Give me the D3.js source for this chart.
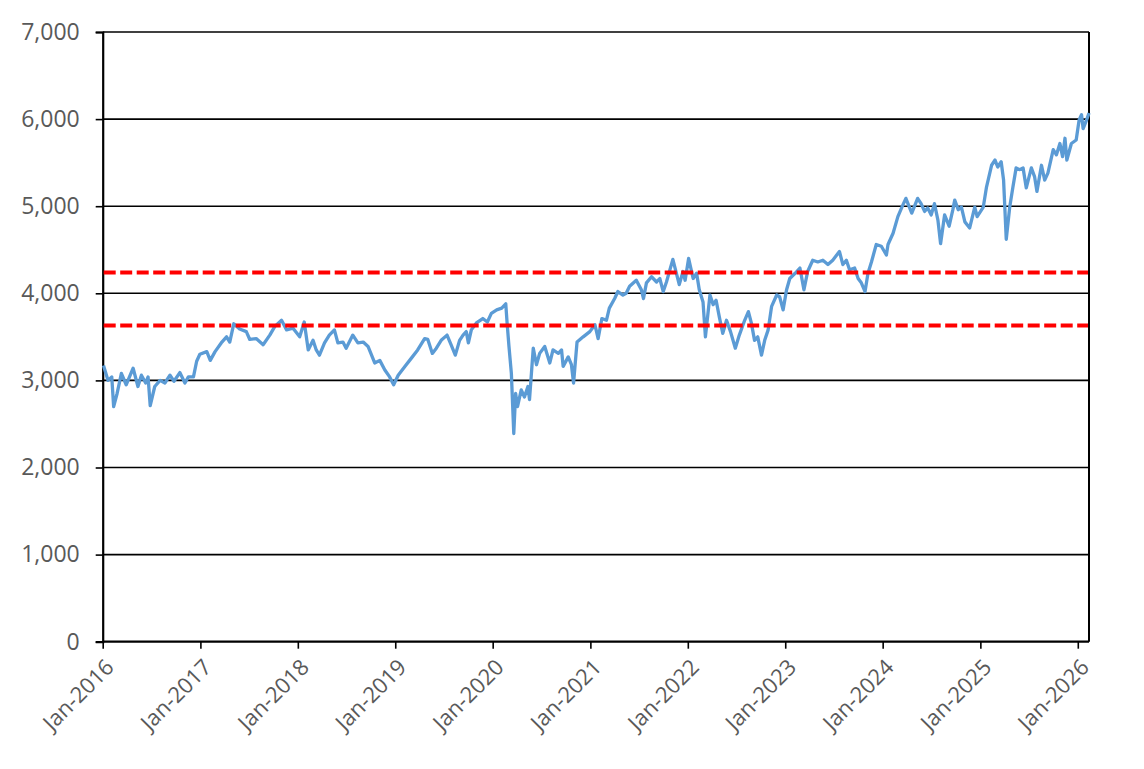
<!DOCTYPE html>
<html><head><meta charset="utf-8">
<script src="https://cdn.jsdelivr.net/npm/d3@7"></script>
<style>body{margin:0;background:#fff}svg{display:block}</style>
</head><body><svg id="c" width="1144" height="769"></svg>
<script>
const seriesPoints = [
["2016-01-04",3170],["2016-01-21",3000],["2016-02-04",3040],["2016-02-11",2700],["2016-02-24",2850],["2016-03-11",3080],["2016-03-29",2950],["2016-04-24",3140],["2016-05-12",2930],["2016-05-25",3060],["2016-06-10",2970],["2016-06-19",3040],["2016-06-27",2710],["2016-07-14",2930],["2016-08-03",3000],["2016-08-21",2970],["2016-09-09",3060],["2016-09-24",2990],["2016-10-16",3090],["2016-11-04",2970],["2016-11-17",3040],["2016-12-06",3040],["2016-12-18",3220],["2016-12-30",3300],
["2017-01-25",3330],["2017-02-07",3230],["2017-02-25",3330],["2017-03-20",3430],["2017-04-09",3500],["2017-04-21",3440],["2017-05-06",3650],["2017-05-28",3590],["2017-06-22",3560],["2017-07-05",3470],["2017-07-29",3480],["2017-08-24",3410],["2017-09-18",3520],["2017-10-07",3620],["2017-11-01",3690],["2017-11-20",3580],["2017-12-14",3600],
["2018-01-08",3500],["2018-01-25",3670],["2018-02-09",3350],["2018-02-27",3460],["2018-03-11",3350],["2018-03-23",3290],["2018-04-11",3430],["2018-04-29",3520],["2018-05-18",3580],["2018-05-31",3430],["2018-06-19",3440],["2018-07-01",3370],["2018-07-26",3520],["2018-08-14",3430],["2018-09-03",3440],["2018-09-21",3390],["2018-10-16",3200],["2018-11-04",3230],["2018-11-23",3120],["2018-12-11",3040],["2018-12-26",2950],
["2019-01-12",3060],["2019-02-06",3160],["2019-03-01",3250],["2019-03-26",3350],["2019-04-21",3480],["2019-05-03",3470],["2019-05-20",3310],["2019-06-04",3370],["2019-06-22",3460],["2019-07-14",3520],["2019-07-29",3410],["2019-08-14",3290],["2019-08-30",3460],["2019-09-12",3520],["2019-09-24",3560],["2019-10-02",3430],["2019-10-13",3580],["2019-11-01",3660],["2019-11-25",3710],["2019-12-12",3670],["2019-12-27",3770],
["2020-01-16",3810],["2020-02-04",3830],["2020-02-19",3880],["2020-02-24",3660],["2020-03-02",3390],["2020-03-11",3080],["2020-03-20",2390],["2020-03-27",2850],["2020-04-03",2700],["2020-04-17",2890],["2020-04-29",2810],["2020-05-12",2930],["2020-05-18",2780],["2020-06-01",3370],["2020-06-13",3180],["2020-06-25",3310],["2020-07-14",3390],["2020-08-02",3200],["2020-08-14",3350],["2020-09-03",3310],["2020-09-15",3350],["2020-09-21",3160],["2020-10-10",3270],["2020-10-22",3180],["2020-10-30",2970],["2020-11-12",3440],["2020-12-05",3500],["2020-12-30",3560],
["2021-01-18",3640],["2021-01-30",3480],["2021-02-13",3710],["2021-03-02",3690],["2021-03-13",3830],["2021-04-02",3940],["2021-04-14",4020],["2021-05-03",3980],["2021-05-15",4000],["2021-05-28",4080],["2021-06-22",4150],["2021-07-11",4040],["2021-07-19",3940],["2021-07-30",4120],["2021-08-18",4190],["2021-09-06",4130],["2021-09-18",4170],["2021-10-01",4020],["2021-10-13",4130],["2021-11-06",4390],["2021-11-30",4100],["2021-12-14",4250],["2021-12-22",4150],
["2022-01-04",4400],["2022-01-21",4170],["2022-02-03",4230],["2022-02-13",4040],["2022-02-27",3900],["2022-03-08",3500],["2022-03-25",3980],["2022-04-06",3870],["2022-04-17",3920],["2022-04-29",3730],["2022-05-12",3540],["2022-05-26",3690],["2022-06-10",3560],["2022-06-28",3370],["2022-07-13",3520],["2022-08-02",3690],["2022-08-16",3790],["2022-08-27",3660],["2022-09-08",3460],["2022-09-20",3500],["2022-10-04",3290],["2022-10-16",3460],["2022-10-29",3580],["2022-11-11",3850],["2022-11-30",3980],["2022-12-11",3960],["2022-12-24",3810],
["2023-01-06",4040],["2023-01-18",4170],["2023-02-07",4230],["2023-02-25",4290],["2023-03-12",4040],["2023-03-26",4250],["2023-04-14",4380],["2023-05-03",4360],["2023-05-22",4380],["2023-06-10",4330],["2023-06-28",4380],["2023-07-23",4480],["2023-08-05",4330],["2023-08-18",4380],["2023-08-30",4270],["2023-09-18",4290],["2023-10-01",4170],["2023-10-13",4120],["2023-10-27",4020],["2023-11-07",4230],["2023-11-20",4360],["2023-12-08",4560],["2023-12-27",4540],
["2024-01-15",4440],["2024-01-21",4560],["2024-02-09",4690],["2024-02-27",4880],["2024-03-16",5010],["2024-03-28",5090],["2024-04-10",4990],["2024-04-19",4920],["2024-05-11",5090],["2024-05-24",5030],["2024-06-06",4940],["2024-06-18",4980],["2024-07-01",4900],["2024-07-13",5030],["2024-07-26",4840],["2024-08-05",4570],["2024-08-20",4900],["2024-09-06",4770],["2024-09-20",4960],["2024-09-27",5070],["2024-10-10",4960],["2024-10-22",4990],["2024-11-04",4820],["2024-11-22",4750],["2024-12-11",4990],["2024-12-20",4880],
["2025-01-12",4990],["2025-01-24",5220],["2025-02-12",5470],["2025-02-25",5530],["2025-03-07",5450],["2025-03-20",5510],["2025-03-29",5300],["2025-04-08",4620],["2025-04-21",4990],["2025-05-03",5220],["2025-05-15",5440],["2025-05-28",5420],["2025-06-10",5440],["2025-06-22",5210],["2025-07-11",5440],["2025-07-23",5340],["2025-08-01",5170],["2025-08-18",5470],["2025-08-30",5300],["2025-09-11",5380],["2025-10-01",5650],["2025-10-13",5590],["2025-10-26",5720],["2025-11-05",5570],["2025-11-14",5780],["2025-11-21",5530],["2025-12-08",5720],["2025-12-26",5760],
["2026-01-06",5990],["2026-01-15",6050],["2026-01-21",5890],["2026-02-03",5990],["2026-02-12",6070]
];
const refLevels = [4240, 3630];
const yTickValues = [0, 1000, 2000, 3000, 4000, 5000, 6000, 7000];
const xTickYears = [2016, 2017, 2018, 2019, 2020, 2021, 2022, 2023, 2024, 2025, 2026];
const xDomain = ["2016-01-01", "2026-02-12"];

const parse = d3.timeParse("%Y-%m-%d");
const data = seriesPoints.map(([d, v]) => ({date: parse(d), value: v}));

const L = 102.7, R = 1089, T = 32, B = 641.7;
const svg = d3.select("#c");
svg.append("rect").attr("width",1144).attr("height",769).attr("fill","#fff");

const x = d3.scaleTime().domain(xDomain.map(parse)).range([L, R]);
const y = d3.scaleLinear().domain([0, 7000]).range([B, T]);

const font = "'Open Sans', sans-serif";

// gridlines
svg.append("g").selectAll("line").data(yTickValues.filter(v => v > 0)).join("line")
  .attr("x1", L).attr("x2", R).attr("y1", d => y(d)).attr("y2", d => y(d))
  .attr("stroke", "#000").attr("stroke-width", 1.6);

// right border
svg.append("line").attr("x1", R).attr("x2", R).attr("y1", T).attr("y2", B)
  .attr("stroke", "#000").attr("stroke-width", 2);

// y axis
const yAxis = svg.append("g").attr("transform", `translate(${L},0)`)
  .call(d3.axisLeft(y).tickValues(yTickValues).tickSize(7).tickPadding(16).tickFormat(d3.format(",")));
yAxis.select(".domain").attr("stroke", "#000").attr("stroke-width", 2.2);
yAxis.selectAll(".tick line").attr("stroke", "#000").attr("stroke-width", 1.6);
yAxis.selectAll("text").attr("fill", "#595959").style("font-family", font).style("font-size", "23px");

// x axis
const xAxis = svg.append("g").attr("transform", `translate(0,${B})`)
  .call(d3.axisBottom(x).tickValues(xTickYears.map(yr => new Date(yr, 0, 1))).tickSize(7).tickFormat(d3.timeFormat("%b-%Y")));
xAxis.select(".domain").attr("stroke", "#000").attr("stroke-width", 2.2).attr("d", `M${L},0H${R}`);
xAxis.selectAll(".tick line").attr("stroke", "#000").attr("stroke-width", 1.6);
xAxis.selectAll("text").attr("fill", "#595959").style("font-family", font).style("font-size", "22px")
  .attr("text-anchor", "end").attr("x", 0).attr("y", 0).attr("dy", 0)
  .attr("transform", "translate(12,27) rotate(-45)");

// series
const line = d3.line().x(d => x(d.date)).y(d => y(d.value));
svg.append("path").datum(data).attr("d", line).attr("fill", "none")
  .attr("stroke", "#5B9BD5").attr("stroke-width", 3.3).attr("stroke-linejoin", "round");

// reference lines
svg.append("g").selectAll("line").data(refLevels).join("line")
  .attr("x1", L + 1).attr("x2", R - 1).attr("y1", d => y(d)).attr("y2", d => y(d))
  .attr("stroke", "#FF0000").attr("stroke-width", 4).attr("stroke-dasharray", "12,4.5");
</script></body></html>
